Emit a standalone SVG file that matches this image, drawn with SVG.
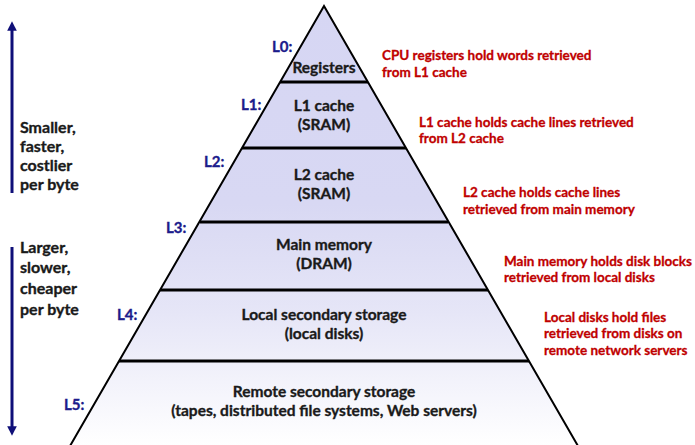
<svg xmlns="http://www.w3.org/2000/svg" width="695" height="445" viewBox="0 0 695 445">
<defs>
<linearGradient id="pyr" x1="0" y1="0" x2="0" y2="1" gradientUnits="objectBoundingBox">
<stop offset="0" stop-color="#d6d6f3"/>
<stop offset="0.45" stop-color="#d8d8f3"/>
<stop offset="0.7" stop-color="#e6e6f7"/>
<stop offset="1" stop-color="#ffffff"/>
</linearGradient>
<marker id="ah" viewBox="0 0 10 10" refX="5" refY="5" markerWidth="3.2" markerHeight="3.4" orient="auto" markerUnits="strokeWidth">
<path d="M0,0 L10,5 L0,10 Z" fill="#0f0f78"/>
</marker>
<style>
.t{font-family:"Lato","Liberation Sans",sans-serif;font-weight:bold;font-size:15.5px;fill:#1a1a1a;stroke:#1a1a1a;stroke-width:0.35}
.s{font-size:16px}
.c{text-anchor:middle}
.lv{font-family:"Lato","Liberation Sans",sans-serif;font-weight:bold;font-size:15px;fill:#1c1c8c;stroke:#1c1c8c;stroke-width:0.35}
.r{font-family:"Lato","Liberation Sans",sans-serif;font-weight:bold;font-size:13.5px;fill:#c00000;stroke:#c00000;stroke-width:0.3}
.band{stroke:#000;stroke-width:3}
.arr{stroke:#0f0f78;stroke-width:3;fill:none}
</style>
</defs>
<rect width="695" height="445" fill="#fff"/>
<g id="pyramid">
<polygon points="324,6 70,446 578,446" fill="url(#pyr)" stroke="#000" stroke-width="2"/>
</g>
<g id="connectors">
<line class="band" x1="280" y1="82" x2="368" y2="82"/>
<line class="band" x1="242" y1="148" x2="406" y2="148"/>
<line class="band" x1="200" y1="222" x2="448" y2="222"/>
<line class="band" x1="160" y1="290" x2="488" y2="290"/>
<line class="band" x1="119" y1="361" x2="529" y2="361"/>
<line class="arr" x1="12" y1="193" x2="12" y2="26" marker-end="url(#ah)"/>
<line class="arr" x1="12" y1="247" x2="12" y2="431" marker-end="url(#ah)"/>
</g>
<g id="up-label">
<text class="t s" x="20" y="133">Smaller,</text>
<text class="t s" x="20" y="152">faster,</text>
<text class="t s" x="20" y="171">costlier</text>
<text class="t s" x="20" y="190">per byte</text>
</g>
<g id="down-label">
<text class="t s" x="20" y="253">Larger,</text>
<text class="t s" x="20" y="273">slower,</text>
<text class="t s" x="20" y="294">cheaper</text>
<text class="t s" x="20" y="315">per byte</text>
</g>
<g id="L0">
<text class="lv" x="272" y="52">L0:</text>
<text class="t c" x="324" y="73">Registers</text>
<text class="r" x="382" y="60">CPU registers hold words retrieved</text>
<text class="r" x="382" y="77">from L1 cache</text>
</g>
<g id="L1">
<text class="lv" x="241" y="110">L1:</text>
<text class="t c" x="324" y="111">L1 cache</text>
<text class="t c" x="324" y="130">(SRAM)</text>
<text class="r" x="419" y="127">L1 cache holds cache lines retrieved</text>
<text class="r" x="419" y="143">from L2 cache</text>
</g>
<g id="L2">
<text class="lv" x="204" y="167">L2:</text>
<text class="t c" x="324" y="180">L2 cache</text>
<text class="t c" x="324" y="199">(SRAM)</text>
<text class="r" x="463" y="197">L2 cache holds cache lines</text>
<text class="r" x="463" y="214">retrieved from main memory</text>
</g>
<g id="L3">
<text class="lv" x="166" y="233">L3:</text>
<text class="t c" x="324" y="250">Main memory</text>
<text class="t c" x="324" y="269">(DRAM)</text>
<text class="r" x="504" y="266">Main memory holds disk blocks</text>
<text class="r" x="504" y="282">retrieved from local disks</text>
</g>
<g id="L4">
<text class="lv" x="117" y="320">L4:</text>
<text class="t c" x="324" y="320">Local secondary storage</text>
<text class="t c" x="324" y="339">(local disks)</text>
<text class="r" x="544" y="322">Local disks hold files</text>
<text class="r" x="544" y="338">retrieved from disks on</text>
<text class="r" x="544" y="355">remote network servers</text>
</g>
<g id="L5">
<text class="lv" x="64" y="410">L5:</text>
<text class="t c" x="324" y="397">Remote secondary storage</text>
<text class="t c" x="324" y="416">(tapes, distributed file systems, Web servers)</text>
</g>
</svg>
